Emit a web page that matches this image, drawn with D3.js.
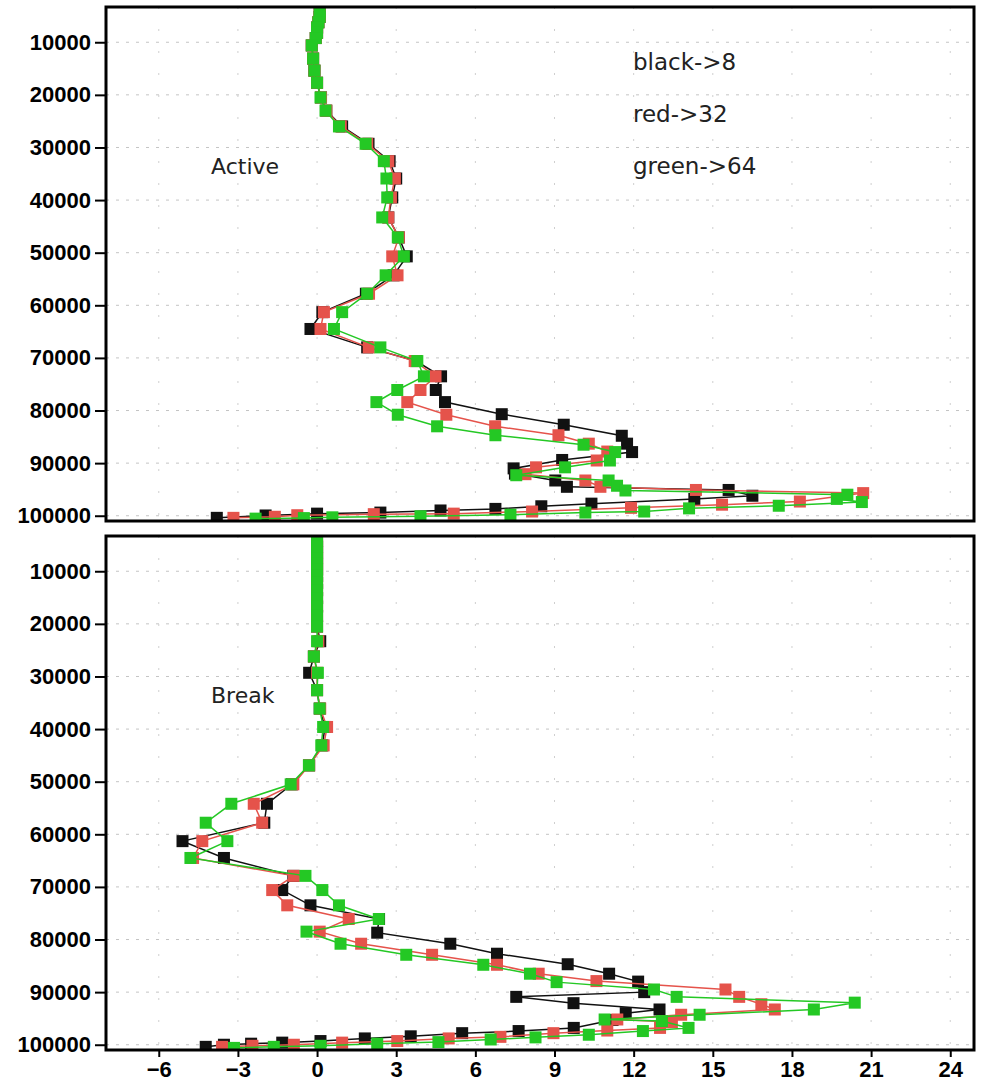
<!DOCTYPE html>
<html>
<head>
<meta charset="utf-8">
<script src="https://cdn.jsdelivr.net/npm/d3@7"></script>
<style>
  html, body { margin: 0; padding: 0; background: #fff; }
  svg { display: block; }
</style>
</head>
<body>
<svg id="chart" width="983" height="1085"></svg>
<script>
// ---------- data ----------
const yTicks = [10000, 20000, 30000, 40000, 50000, 60000, 70000, 80000, 90000, 100000];
const xTicks = [-6, -3, 0, 3, 6, 9, 12, 15, 18, 21, 24];
const panelNames = ["Active", "Break"];
const legendLabels = ["black->8", "red->32", "green->64"];
const seriesNames = ["black", "red", "green"];

// [pressure, value]
const activeBlack = [
 [4200,0.1],[5200,0.1],[6200,0.05],[7200,0.0],[8200,0.0],[9200,-0.05],[10600,-0.2],[13100,-0.15],[15400,-0.1],[17700,0.0],
 [20500,0.15],[23000,0.35],[26000,0.95],[29300,1.95],[32600,2.75],[35900,3.0],[39500,2.85],[43300,2.7],[47100,3.1],[50700,3.4],
 [54300,2.9],[57800,1.85],[61300,0.2],[64500,-0.25],[68000,1.9],[70600,3.75],[73500,4.7],[76100,4.5],[78400,4.85],[80700,7.0],
 [82700,9.35],[84800,11.55],[86300,11.75],[87900,11.94],[89400,9.29],[91000,7.45],[92000,7.5],[93300,9.03],[94500,9.47],[95100,15.6],
 [96200,16.5],[96800,14.3],[97700,10.4],[98200,8.5],[98700,6.76],[99000,4.68],[99400,2.4],[99600,0.0],[99950,-1.95],[100400,-3.8]
];
const activeRed = [
 [4200,0.1],[5200,0.1],[6200,0.05],[7200,0.0],[8200,0.0],[9200,-0.05],[10600,-0.2],[13100,-0.15],[15400,-0.1],[17700,0.0],
 [20500,0.15],[23000,0.35],[26000,0.9],[29300,1.9],[32600,2.7],[35900,2.95],[39500,2.8],[43300,2.7],[47100,3.1],[50700,2.85],
 [54300,3.05],[57800,1.97],[61300,0.26],[64500,0.13],[68000,1.96],[70600,3.7],[73500,4.49],[76100,3.92],[78400,3.42],[80800,4.9],
 [83000,6.75],[84700,9.15],[86300,10.3],[87800,11.0],[89500,10.6],[90800,8.3],[92100,7.9],[93300,10.17],[94500,10.74],[95100,14.36],
 [95700,20.7],[97300,18.3],[97900,15.35],[98500,11.9],[99200,8.15],[99600,5.18],[99700,2.15],[99900,-0.75],[100200,-1.6],[100400,-3.17]
];
const activeGreen = [
 [4200,0.1],[5200,0.1],[6200,0.05],[7200,0.0],[8200,0.0],[9200,-0.05],[10600,-0.2],[13100,-0.15],[15400,-0.1],[17700,0.0],
 [20500,0.13],[23000,0.32],[26000,0.83],[29300,1.84],[32600,2.53],[35900,2.63],[39500,2.66],[43300,2.47],[47100,3.06],[50700,3.29],
 [54300,2.6],[57800,1.9],[61300,0.95],[64500,0.64],[68000,2.4],[70600,3.8],[73500,4.05],[76100,3.04],[78400,2.25],[80800,3.06],
 [83000,4.55],[84700,6.76],[86500,10.1],[87900,11.3],[89500,11.1],[90800,9.4],[92300,7.55],[93300,11.05],[94300,11.37],[95200,11.69],
 [96000,20.1],[96800,19.7],[97400,20.65],[98100,17.5],[98600,14.1],[99200,12.4],[99400,10.17],[99800,7.33],[100100,3.92],[100300,0.58],
 [100450,-0.5],[100550,-2.33]
];

const breakBlack = [
 [4200,0],[5300,0],[6400,0],[7500,0],[8600,0],[9700,0],[10900,0],[12200,0],[13600,0],[15100,0],[16700,0],[18500,0],[20500,0],
 [23300,0.12],[26200,-0.12],[29300,-0.3],[32600,0.0],[36100,0.1],[39600,0.3],[43100,0.2],[46900,-0.3],[50500,-0.95],[54200,-1.9],
 [57800,-2.0],[61300,-5.1],[64500,-3.53],[67900,-0.9],[70600,-1.32],[73500,-0.25],[76100,2.35],[78700,2.28],[80800,5.05],[82700,6.82],
 [84700,9.5],[86500,11.07],[88000,12.17],[90000,12.4],[90900,7.55],[92100,9.72],[93300,12.98],[94000,11.7],[95300,11.2],[96800,9.73],
 [97400,7.64],[97800,5.5],[98400,3.55],[98800,1.81],[99300,0.13],[99600,-1.32],[99800,-2.5],[100000,-3.53],[100400,-4.22]
];
const breakRed = [
 [4200,0],[5300,0],[6400,0],[7500,0],[8600,0],[9700,0],[10900,0],[12200,0],[13600,0],[15100,0],[16700,0],[18500,0],[20500,0],
 [23300,0.05],[26200,-0.12],[29300,0.0],[32600,0.0],[36100,0.12],[39600,0.38],[43100,0.25],[46900,-0.3],[50500,-0.9],[54200,-2.4],
 [57800,-2.08],[61300,-4.35],[64500,-4.7],[67900,-0.88],[70600,-1.7],[73500,-1.13],[76100,1.2],[78500,0.1],[80800,1.67],[82900,4.36],
 [84800,6.82],[86500,8.4],[87900,10.59],[89500,15.48],[90900,16.0],[92300,16.84],[93300,17.35],[94300,13.8],[95200,11.38],[95700,13.45],
 [96800,13.0],[97300,11.0],[97800,8.96],[98500,6.95],[98800,4.99],[99300,3.04],[99600,0.95],[100000,-0.88],[100200,-2.45],[100400,-3.6]
];
const breakGreen = [
 [4200,0],[5300,0],[6400,0],[7500,0],[8600,0],[9700,0],[10900,0],[12200,0],[13600,0],[15100,0],[16700,0],[18500,0],[20500,0],
 [23300,0.0],[26200,-0.12],[29300,0.03],[32600,0.0],[36100,0.1],[39600,0.23],[43100,0.16],[46900,-0.31],[50500,-1.0],[54200,-3.25],
 [57800,-4.22],[61300,-3.4],[64500,-4.8],[67900,-0.44],[70600,0.2],[73500,0.83],[76100,2.34],[78500,-0.4],[80800,0.89],[82900,3.38],
 [84800,6.3],[86500,8.07],[88100,9.08],[89500,12.77],[90900,13.63],[92000,20.38],[93300,18.83],[94300,14.5],[95200,10.9],[95500,13.07],
 [96800,14.08],[97400,12.35],[98100,10.3],[98600,8.28],[99000,6.58],[99500,4.6],[99800,2.28],[100200,0.13],[100400,-1.64],[100600,-3.15]
];

// ---------- layout ----------
const colors = { black: "#111111", red: "#e5534b", green: "#24c824" };
const left = 106, right = 974;
const panels = [
  { name: panelNames[0], top: 7, bottom: 521, series: [activeBlack, activeRed, activeGreen], legend: true, xAxis: false },
  { name: panelNames[1], top: 536, bottom: 1050, series: [breakBlack, breakRed, breakGreen], legend: false, xAxis: true }
];

const svg = d3.select("#chart");
svg.append("rect").attr("width", 983).attr("height", 1085).attr("fill", "#fff");

const x = d3.scaleLinear().domain([-8, 24.9]).range([left, right]);

panels.forEach((p, pi) => {
  const y = d3.scaleLinear().domain([3300, 101000]).range([p.top, p.bottom]);
  const g = svg.append("g");
  const clipId = "clip" + pi;
  svg.append("clipPath").attr("id", clipId)
    .append("rect").attr("x", left).attr("y", p.top).attr("width", right - left).attr("height", p.bottom - p.top);

  // grid
  const grid = g.append("g").attr("clip-path", `url(#${clipId})`);
  grid.selectAll("line.h").data(yTicks).join("line")
    .attr("x1", left).attr("x2", right)
    .attr("y1", d => y(d)).attr("y2", d => y(d))
    .attr("stroke", "#c4c4c4").attr("stroke-width", 1).attr("stroke-dasharray", "3,7");
  grid.selectAll("line.v").data(xTicks).join("line")
    .attr("y1", p.top).attr("y2", p.bottom)
    .attr("x1", d => x(d)).attr("x2", d => x(d))
    .attr("stroke", "#cfcfcf").attr("stroke-width", 1).attr("stroke-dasharray", "2,20");

  // y axis
  const ya = g.append("g").attr("transform", `translate(${left},0)`)
    .call(d3.axisLeft(y).tickValues(yTicks).tickSize(11).tickPadding(4).tickFormat(d3.format("d")));
  ya.select(".domain").remove();
  ya.selectAll(".tick line").attr("stroke", "#000").attr("stroke-width", 2);
  ya.selectAll(".tick text").attr("font-family", "'Liberation Sans', Arial, sans-serif")
    .attr("font-size", 22).attr("font-weight", "bold").attr("fill", "#000");

  // x axis
  if (p.xAxis) {
    const xa = g.append("g").attr("transform", `translate(0,${p.bottom})`)
      .call(d3.axisBottom(x).tickValues(xTicks).tickSize(7).tickPadding(4));
    xa.select(".domain").remove();
    xa.selectAll(".tick line").attr("stroke", "#000").attr("stroke-width", 2);
    xa.selectAll(".tick text").attr("font-family", "'Liberation Sans', Arial, sans-serif")
      .attr("font-size", 22).attr("font-weight", "bold").attr("fill", "#000");
  }

  // series
  const plot = g.append("g").attr("clip-path", `url(#${clipId})`);
  const line = d3.line().x(d => x(d[1])).y(d => y(d[0]));
  p.series.forEach((s, si) => {
    const c = colors[seriesNames[si]];
    plot.append("path").datum(s).attr("d", line)
      .attr("fill", "none").attr("stroke", c).attr("stroke-width", 1.5);
    plot.append("g").selectAll("rect").data(s).join("rect")
      .attr("x", d => x(d[1]) - 6).attr("y", d => y(d[0]) - 6)
      .attr("width", 12).attr("height", 12).attr("fill", c);
  });

  // panel label
  g.append("text").attr("x", 211).attr("y", p.top + 167)
    .attr("font-family", "'DejaVu Sans', sans-serif").attr("font-size", 22)
    .attr("fill", "#222").text(p.name);

  if (p.legend) {
    g.selectAll("text.leg").data(legendLabels).join("text")
      .attr("x", 633).attr("y", (d, i) => 70 + i * 52)
      .attr("font-family", "'DejaVu Sans', sans-serif").attr("font-size", 23)
      .attr("fill", "#222").text(d => d);
  }

  // border
  g.append("rect").attr("x", left).attr("y", p.top)
    .attr("width", right - left).attr("height", p.bottom - p.top)
    .attr("fill", "none").attr("stroke", "#000").attr("stroke-width", 3);
});
</script>
</body>
</html>
